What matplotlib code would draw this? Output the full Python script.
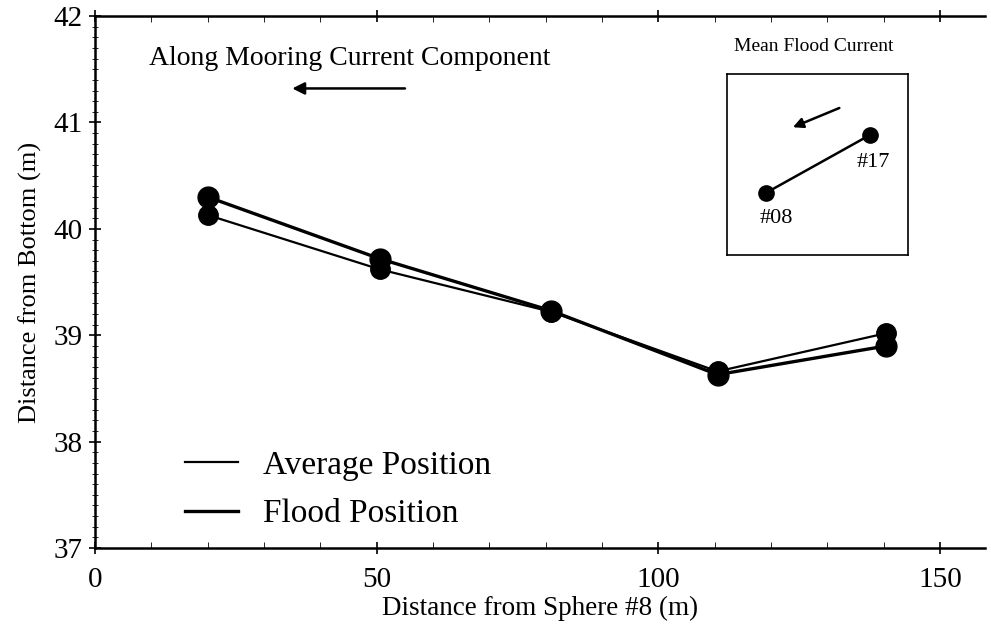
import matplotlib
matplotlib.use("Agg")
import matplotlib.pyplot as plt
from matplotlib.lines import Line2D
from matplotlib.ticker import MultipleLocator

plt.rcParams['font.family'] = ['Liberation Serif', 'DejaVu Serif']

# Data
x_dist = [20, 50.5, 81, 110.5, 140.5]
avg_pos = [40.13, 39.62, 39.22, 38.66, 39.02]
flood_pos = [40.30, 39.72, 39.23, 38.63, 38.90]
series_labels = ["Average Position", "Flood Position"]
x_ticks = [0, 50, 100, 150]
y_ticks = [37, 38, 39, 40, 41, 42]

# inset (plan view) points
inset_x = [0.215, 0.79]
inset_y = [0.343, 0.663]
inset_labels = ["#08", "#17"]

fig = plt.figure(figsize=(9.91, 6.34), dpi=100)
ax = fig.add_axes([0.096, 0.1356, 0.898, 0.839])

ax.plot(x_dist, avg_pos, color='black', lw=1.6, marker='o', ms=14, zorder=3)
ax.plot(x_dist, flood_pos, color='black', lw=2.4, marker='o', ms=15, zorder=3)

ax.set_xlim(0, 158)
ax.set_ylim(37, 42)
ax.set_xticks(x_ticks)
ax.set_yticks(y_ticks)
ax.xaxis.set_minor_locator(MultipleLocator(10))
ax.yaxis.set_minor_locator(MultipleLocator(0.1))
ax.tick_params(axis='both', which='major', labelsize=21, length=8, width=1.2, color='black')
ax.tick_params(axis='x', which='major', direction='inout', pad=10, top=True)
ax.tick_params(axis='y', which='major', direction='inout', pad=5)
ax.tick_params(axis='x', which='minor', direction='in', length=4, top=True)
ax.tick_params(axis='y', which='minor', direction='inout', length=4)
for s in ['left', 'bottom', 'top']:
    ax.spines[s].set_linewidth(1.8)
ax.spines['right'].set_visible(False)

ax.set_xlabel("Distance from Sphere #8 (m)", fontsize=19.5, labelpad=2)
ax.set_ylabel("Distance from Bottom (m)", fontsize=19, labelpad=8)

# Annotation: along mooring current component
ax.text(45.2, 41.60, "Along Mooring Current Component", fontsize=20,
        ha='center', va='center')
ax.annotate("", xy=(34.5, 41.32), xytext=(55.5, 41.32),
            arrowprops=dict(arrowstyle='-|>', color='black', lw=1.8,
                            mutation_scale=18))

# Legend
handles = [Line2D([], [], color='black', lw=1.6),
           Line2D([], [], color='black', lw=2.4)]
leg = ax.legend(handles, series_labels, loc='upper left',
                bbox_to_anchor=(0.101, 0.184), frameon=False, fontsize=24,
                handlelength=1.6, handletextpad=0.75, labelspacing=0.55,
                borderpad=0, borderaxespad=0)

# Inset plan view
fig.text(0.8215, 0.926, "Mean Flood Current", fontsize=14, ha='center', va='center')
iax = fig.add_axes([0.7336, 0.5978, 0.1826, 0.2855])
iax.set_xlim(0, 1)
iax.set_ylim(0, 1)
iax.set_xticks([])
iax.set_yticks([])
for s in iax.spines.values():
    s.set_linewidth(1.2)
iax.plot(inset_x, inset_y, color='black', lw=1.8, marker='o', ms=11)
iax.text(0.27, 0.20, inset_labels[0], fontsize=16, ha='center', va='center')
iax.text(0.81, 0.51, inset_labels[1], fontsize=16, ha='center', va='center')
iax.annotate("", xy=(0.35, 0.70), xytext=(0.635, 0.818),
             arrowprops=dict(arrowstyle='-|>', color='black', lw=1.8,
                             mutation_scale=15))

fig.savefig("out.png", dpi=100)
